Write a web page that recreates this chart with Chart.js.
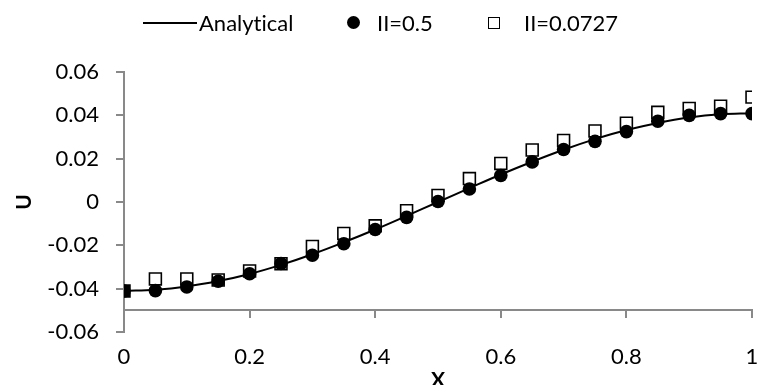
<!DOCTYPE html>
<html>
<head>
<meta charset="utf-8">
<script src="https://cdn.jsdelivr.net/npm/chart.js@4.4.0/dist/chart.umd.min.js"></script>
<style>
html,body{margin:0;padding:0;background:#fff;}
#wrap{position:relative;width:758px;height:385px;}
#legend{position:absolute;left:0;top:0;width:758px;height:46px;font-family:Lato,"Open Sans",sans-serif;font-size:22px;color:#000;font-variant-ligatures:none;}
#legend span{position:absolute;}
.txt{top:10px;line-height:26px;white-space:nowrap;}
</style>
</head>
<body>
<div id="wrap">
<canvas id="chart" width="758" height="385"></canvas>
<div id="legend">
  <span style="left:143px;top:22px;width:54px;height:2px;background:#000;"></span>
  <span class="txt" style="left:199px;">Analytical</span>
  <span style="left:347px;top:16px;width:13px;height:13px;border-radius:50%;background:#000;"></span>
  <span class="txt" style="left:377px;">II=0.5</span>
  <span style="left:488px;top:17px;width:10px;height:10px;border:1.5px solid #000;background:#fff;"></span>
  <span class="txt" style="left:524px;">II=0.0727</span>
</div>
</div>
<script>
const xValues=[0,0.05,0.1,0.15,0.2,0.25,0.3,0.35,0.4,0.45,0.5,0.55,0.6,0.65,0.7,0.75,0.8,0.85,0.9,0.95,1];

const analytical=[-0.0410,-0.0405,-0.0390,-0.0365,-0.0332,-0.0290,-0.0241,-0.0186,-0.0127,-0.0064,0,
0.0064,0.0127,0.0186,0.0241,0.0290,0.0332,0.0365,0.0390,0.0405,0.0410];

const ii05=[-0.0411,-0.0409,-0.0392,-0.0366,-0.0331,-0.0284,-0.0246,-0.0193,-0.0127,-0.0071,0.0002,
0.0060,0.0122,0.0185,0.0242,0.0280,0.0325,0.0373,0.0400,0.0408,0.0408];

const ii0727=[-0.0411,-0.0355,-0.0355,-0.0360,-0.0318,-0.0285,-0.0205,-0.0145,-0.0110,-0.0040,0.0030,
0.0108,0.0178,0.0240,0.0284,0.0328,0.0364,0.0414,0.0432,0.0442,0.0484];

const xTicks=[0,0.2,0.4,0.6,0.8,1];
const yTicks=[0.06,0.04,0.02,0,-0.02,-0.04,-0.06];

function pts(ys){
  return xValues.map((x,i)=>({x:x,y:ys[i]}));
}

const font={family:'Lato, "Open Sans", sans-serif',size:22};
const axisGrey='#898989';

/* first square is drawn filled in the original */
const squareFill=xValues.map((x,i)=>i===0?'#000':'#fff');

const ctx=document.getElementById('chart');
ctx.style.fontVariantLigatures='none';

new Chart(ctx,{
type:'scatter',
data:{
datasets:[
{
label:'Analytical',
data:pts(analytical),
showLine:true,
borderColor:'#000',
borderWidth:2,
pointRadius:0,
tension:0.4,
fill:false
},
{
label:'II=0.5',
data:pts(ii05),
pointStyle:'circle',
pointRadius:6.8,
pointBackgroundColor:'#000',
pointBorderColor:'#000',
pointBorderWidth:0,
showLine:false
},
{
label:'II=0.0727',
data:pts(ii0727),
pointStyle:'rect',
pointRadius:8.4,
pointBackgroundColor:squareFill,
pointBorderColor:'#000',
pointBorderWidth:1.6,
showLine:false
}
]
},
options:{
responsive:false,
animation:false,
layout:{autoPadding:false,padding:{top:72,left:4,right:6,bottom:0}},
plugins:{
legend:{display:false},
tooltip:{enabled:false}
},
scales:{
x:{
type:'linear',
position:'bottom',
min:0,max:1,
afterBuildTicks:s=>{s.ticks=xTicks.map(v=>({value:v}));},
ticks:{font:font,color:'#000',padding:0,callback:v=>String(v)},
grid:{display:false,drawTicks:true,tickLength:12},
border:{display:false},
title:{display:true,text:'X',color:'#000',font:{family:font.family,size:21,weight:'bold',lineHeight:0.5},padding:{top:0,bottom:0}},
afterFit:s=>{s.height=53;s.paddingLeft=0;s.paddingRight=0;}
},
xLine:{
type:'linear',
position:{y:-0.05},
min:0,max:1,
afterBuildTicks:s=>{s.ticks=xTicks.map(v=>({value:v}));},
ticks:{display:false,padding:0},
grid:{drawOnChartArea:false,tickLength:7,color:axisGrey,lineWidth:2},
border:{color:axisGrey,width:2},
afterFit:s=>{s.paddingLeft=0;s.paddingRight=0;}
},
y:{
type:'linear',
min:-0.06,max:0.06,
afterBuildTicks:s=>{s.ticks=yTicks.map(v=>({value:v}));},
ticks:{font:font,color:'#000',padding:17,callback:v=>String(Math.round(v*100)/100)},
grid:{drawOnChartArea:false,tickLength:8,color:axisGrey,lineWidth:2},
border:{color:axisGrey,width:2},
title:{display:true,text:'U',color:'#000',font:{family:font.family,size:21,weight:'bold'},padding:{top:8,bottom:0}},
afterFit:s=>{s.width=120;}
}
}
}
});
</script>
</body>
</html>
